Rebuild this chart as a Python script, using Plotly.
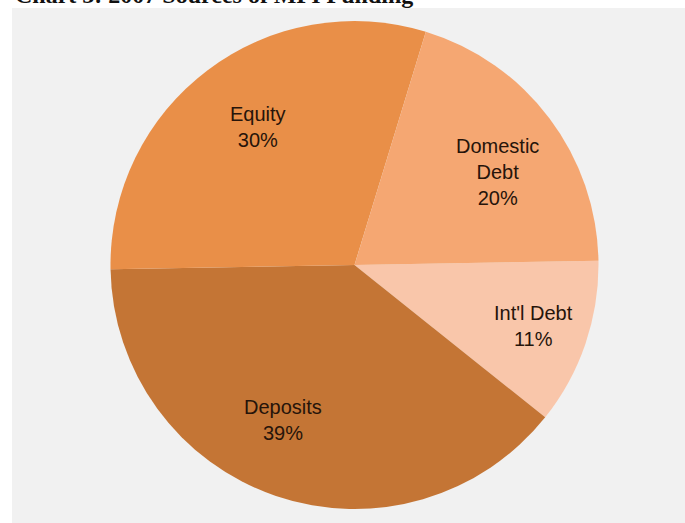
import math
import plotly.graph_objects as go

# Funding sources (percent of total), listed clockwise from 3 o'clock
labels = ["Int'l Debt", "Deposits", "Equity", "Domestic Debt"]
shares = [11, 39, 30, 20]
label_lines = ["Int'l Debt", "Deposits", "Equity", "Domestic<br>Debt"]
colors = ["#F9C6AA", "#C47535", "#E98F48", "#F5A772"]

title_text = "Chart 3: 2007 Sources of MFI Funding"

W, H = 685, 523
cx, cy, R = 354.5, 265.0, 244.0   # pie centre / radius in pixels
start_deg = 89                     # first slice starts just above 3 o'clock

# label placement: (extra angle in degrees, radius as fraction of R)
label_place = [(0, 0.775), (6, 0.70), (2, 0.69), (4, 0.70)]

fig = go.Figure()
fig.add_trace(go.Pie(
    labels=labels,
    values=shares,
    sort=False,
    direction="clockwise",
    rotation=start_deg,
    marker=dict(colors=colors, line=dict(width=0)),
    textinfo="none",
    hoverinfo="label+percent",
    showlegend=False,
    domain=dict(x=[(cx - R) / W, (cx + R) / W],
                y=[(H - cy - R) / H, (H - cy + R) / H]),
))

# Slice labels placed near each slice's bisector
total = sum(shares)
acc = 0.0
for name, val, (dang, rf) in zip(label_lines, shares, label_place):
    mid = acc + val / 2
    acc += val
    # angle measured clockwise from 12 o'clock
    theta = math.radians(start_deg + 360 * mid / total + dang)
    px = cx + rf * R * math.sin(theta)
    py = cy - rf * R * math.cos(theta)
    fig.add_annotation(
        x=px / W, y=1 - py / H, xref="paper", yref="paper",
        text=f"{name}<br>{val}%", showarrow=False,
        font=dict(family="Liberation Sans, Arial, sans-serif", size=20, color="#26140A"),
        align="center", xanchor="center", yanchor="middle",
    )

# Chart heading (mostly above the page edge)
fig.add_annotation(
    x=13 / W, y=1 - 10 / H, xref="paper", yref="paper",
    text=f"<b>{title_text}</b>", showarrow=False,
    font=dict(family="Liberation Serif, Times New Roman, serif", size=24, color="#111111"),
    xanchor="left", yanchor="bottom",
)

# Grey panel behind the pie
fig.add_shape(type="rect", xref="paper", yref="paper",
              x0=12 / W, x1=1, y0=0, y1=1 - 8 / H,
              fillcolor="#F1F1F1", line=dict(width=0), layer="below")

fig.update_layout(
    width=W, height=H,
    margin=dict(l=0, r=0, t=0, b=0),
    paper_bgcolor="white",
    plot_bgcolor="white",
)

fig.write_html("out.html")
